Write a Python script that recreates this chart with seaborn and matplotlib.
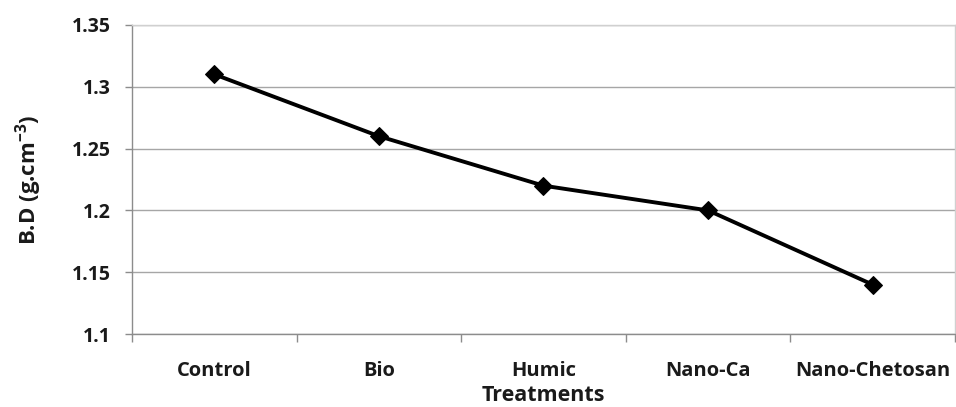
import matplotlib.pyplot as plt
import seaborn as sns
import numpy as np
import pandas as pd
from matplotlib.ticker import FixedLocator, NullFormatter

treatments = ['Control', 'Bio', 'Humic', 'Nano-Ca', 'Nano-Chetosan']
bulk_density = [1.31, 1.26, 1.22, 1.20, 1.14]
y_ticks = [1.1, 1.15, 1.2, 1.25, 1.3, 1.35]
y_labels = ['1.1', '1.15', '1.2', '1.25', '1.3', '1.35']

df = pd.DataFrame({'Treatments': treatments, 'BD': bulk_density})

sns.set_style('white')
plt.rcParams['font.family'] = ['Open Sans', 'DejaVu Sans']
plt.rcParams['mathtext.default'] = 'regular'

fig = plt.figure(figsize=(9.56, 4.07), dpi=100)
ax = fig.add_axes([0.138, 0.179, 0.861, 0.760])

sns.lineplot(data=df, x='Treatments', y='BD', ax=ax, color='black',
             linewidth=2.8, marker='D', markersize=9, markeredgecolor='black',
             sort=False)

ax.set_xlim(-0.5, len(treatments) - 0.5)
ax.set_ylim(1.1, 1.35)
ax.set_yticks(y_ticks)
ax.set_yticklabels(y_labels, fontsize=14, fontweight='bold', color='#1a1a1a')
ax.set_xticks(range(len(treatments)))
ax.set_xticklabels(treatments, fontsize=14.5, fontweight='bold', color='#1a1a1a')
ax.tick_params(axis='x', which='major', length=0, pad=19)
ax.xaxis.set_minor_locator(FixedLocator(np.arange(-0.5, len(treatments), 1.0)))
ax.xaxis.set_minor_formatter(NullFormatter())
ax.tick_params(axis='x', which='minor', length=6, width=1, color='#8c8c8c',
               direction='out', bottom=True)
ax.tick_params(axis='y', length=5, width=1, color='#8c8c8c', direction='out',
               left=True, pad=10)

ax.grid(axis='y', color='#a6a6a6', linewidth=1)
ax.set_axisbelow(True)
for side in ['left', 'bottom']:
    ax.spines[side].set_color('#8c8c8c')
    ax.spines[side].set_linewidth(1)
for side in ['top', 'right']:
    ax.spines[side].set_color('#d0d0d0')
    ax.spines[side].set_linewidth(1)

ax.set_xlabel('Treatments', fontsize=15.5, fontweight='bold', labelpad=3,
              color='#1a1a1a')
ax.set_ylabel('B.D (g.cm$^{-3}$)', fontsize=16, fontweight='bold', labelpad=20,
              color='#1a1a1a')

fig.savefig('out.png', dpi=100)
